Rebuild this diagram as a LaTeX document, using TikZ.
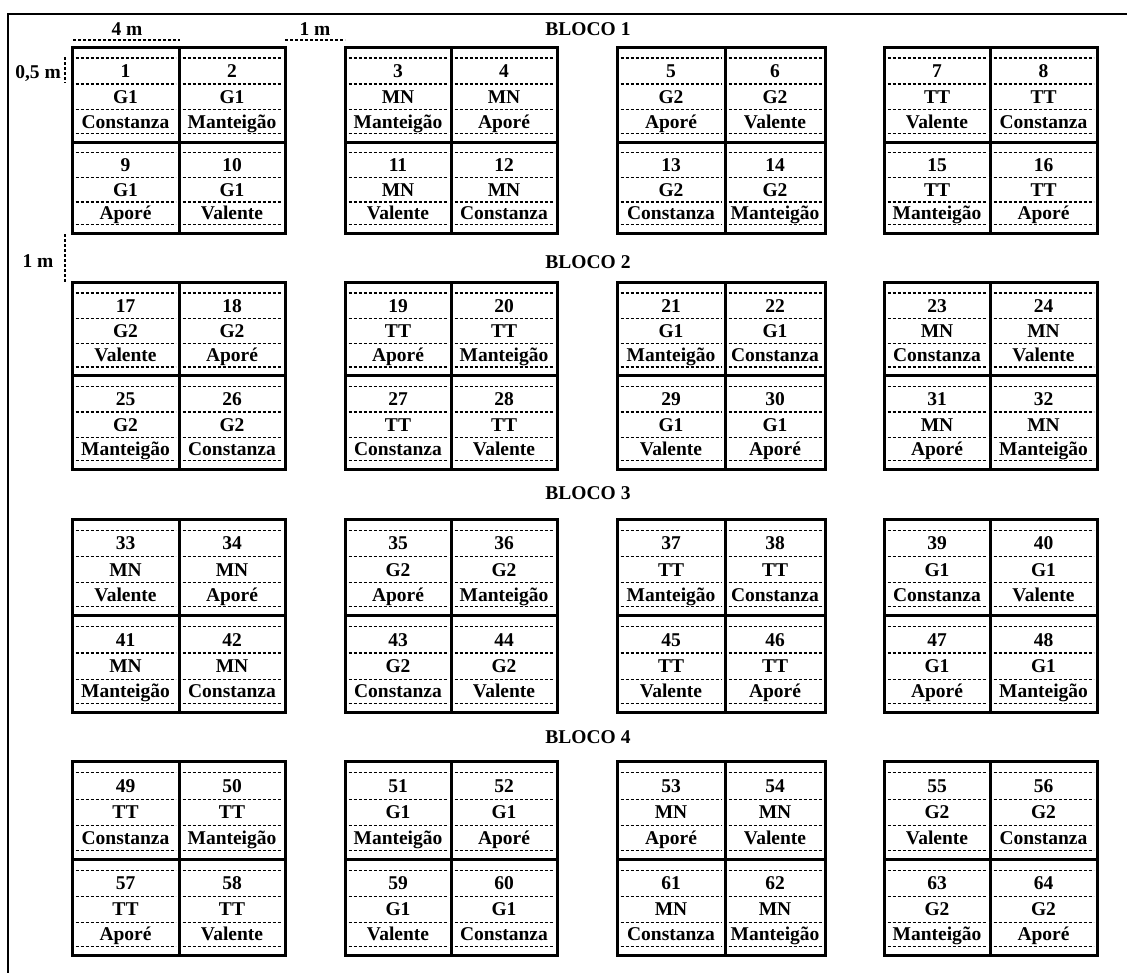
\documentclass[tikz,border=0pt]{standalone}
\usepackage{fontspec}
\setmainfont{Liberation Serif}
\tikzset{
  frameline/.style={line width=2.6pt, line cap=rect},
  plotline/.style={line width=3pt},
  dashline/.style={line width=1.3pt, dash pattern=on 3pt off 2pt},
  lbl/.style={font=\fontsize{19.5}{22}\selectfont\bfseries, inner sep=0pt, anchor=base},
}
\newcommand\plotcell[7]{%
  \pgfmathsetmacro\hh{#4-#3}%
  \draw[plotline] (#1,#3) rectangle (#2,#4);
  \foreach \f in {0.117,0.39,0.66,0.91}
    \draw[dashline] (#1+3.5,{#3+\f*\hh}) -- (#2-3.5,{#3+\f*\hh});
  \node[lbl] (n#5) at ({(#1+#2)/2},{#3+0.2535*\hh+6.5}) {#5};
  \node[lbl] (t#5) at ({(#1+#2)/2},{#3+0.525*\hh+6.5}) {#6};
  \node[lbl] (c#5) at ({(#1+#2)/2},{#3+0.785*\hh+6.5}) {#7};
}
\begin{document}
\begin{tikzpicture}[x=1pt,y=-1pt]
\useasboundingbox (0,0) rectangle (1127,972);
% outer frame (cropped)
\coordinate (fa) at (8,972);
\coordinate (fb) at (8,14);
\coordinate (fc) at (1127,14);
\draw[frameline] (fa) -- (fb) -- (fc);
% dimension markers
\node[lbl] (d4m) at (127,35.5) {4 m};
\coordinate (d4a) at (73,40); \coordinate (d4b) at (180,40);
\draw[dashline] (d4a) -- (d4b);
\node[lbl] (d1m) at (315,35.5) {1 m};
\coordinate (d1a) at (285,40); \coordinate (d1b) at (345,40);
\draw[dashline] (d1a) -- (d1b);
\node[lbl] (d05) at (38,78.5) {0,5 m};
\coordinate (d05a) at (65,57); \coordinate (d05b) at (65,83);
\draw[dashline] (d05a) -- (d05b);
\node[lbl] (d1v) at (38,267.5) {1 m};
\coordinate (d1va) at (65,234); \coordinate (d1vb) at (65,283);
\draw[dashline] (d1va) -- (d1vb);
% block titles
\node[lbl] (b1) at (588,35.5) {BLOCO 1};
\node[lbl] (b2) at (588,268.5) {BLOCO 2};
\node[lbl] (b3) at (588,499.5) {BLOCO 3};
\node[lbl] (b4) at (588,743.5) {BLOCO 4};
% plots
\foreach \num/\trt/\cult in {
 1/G1/Constanza, 2/G1/Manteigão, 3/MN/Manteigão, 4/MN/Aporé, 5/G2/Aporé, 6/G2/Valente, 7/TT/Valente, 8/TT/Constanza,
 9/G1/Aporé, 10/G1/Valente, 11/MN/Valente, 12/MN/Constanza, 13/G2/Constanza, 14/G2/Manteigão, 15/TT/Manteigão, 16/TT/Aporé,
 17/G2/Valente, 18/G2/Aporé, 19/TT/Aporé, 20/TT/Manteigão, 21/G1/Manteigão, 22/G1/Constanza, 23/MN/Constanza, 24/MN/Valente,
 25/G2/Manteigão, 26/G2/Constanza, 27/TT/Constanza, 28/TT/Valente, 29/G1/Valente, 30/G1/Aporé, 31/MN/Aporé, 32/MN/Manteigão,
 33/MN/Valente, 34/MN/Aporé, 35/G2/Aporé, 36/G2/Manteigão, 37/TT/Manteigão, 38/TT/Constanza, 39/G1/Constanza, 40/G1/Valente,
 41/MN/Manteigão, 42/MN/Constanza, 43/G2/Constanza, 44/G2/Valente, 45/TT/Valente, 46/TT/Aporé, 47/G1/Aporé, 48/G1/Manteigão,
 49/TT/Constanza, 50/TT/Manteigão, 51/G1/Manteigão, 52/G1/Aporé, 53/MN/Aporé, 54/MN/Valente, 55/G2/Valente, 56/G2/Constanza,
 57/TT/Aporé, 58/TT/Valente, 59/G1/Valente, 60/G1/Constanza, 61/MN/Constanza, 62/MN/Manteigão, 63/G2/Manteigão, 64/G2/Aporé}
{
  \pgfmathtruncatemacro\k{\num-1}
  \pgfmathtruncatemacro\bb{floor(\k/16)}
  \pgfmathtruncatemacro\rr{floor(mod(\k,16)/8)}
  \pgfmathtruncatemacro\gg{floor(mod(\k,8)/2)}
  \pgfmathtruncatemacro\cc{mod(\k,2)}
  \pgfmathtruncatemacro\ix{\gg*3+\cc}
  \pgfmathtruncatemacro\iy{\bb*3+\rr}
  \pgfmathsetmacro\xl{{72,179,285,345,451,557,617,725,825,884,990,1097}[\ix]}
  \pgfmathsetmacro\xr{{72,179,285,345,451,557,617,725,825,884,990,1097}[\ix+1]}
  \pgfmathsetmacro\yt{{47,142,233,282,375.5,469,519,615.5,712,761,859,955}[\iy]}
  \pgfmathsetmacro\yb{{47,142,233,282,375.5,469,519,615.5,712,761,859,955}[\iy+1]}
  \plotcell{\xl}{\xr}{\yt}{\yb}{\num}{\trt}{\cult}
}
\end{tikzpicture}
\end{document}
